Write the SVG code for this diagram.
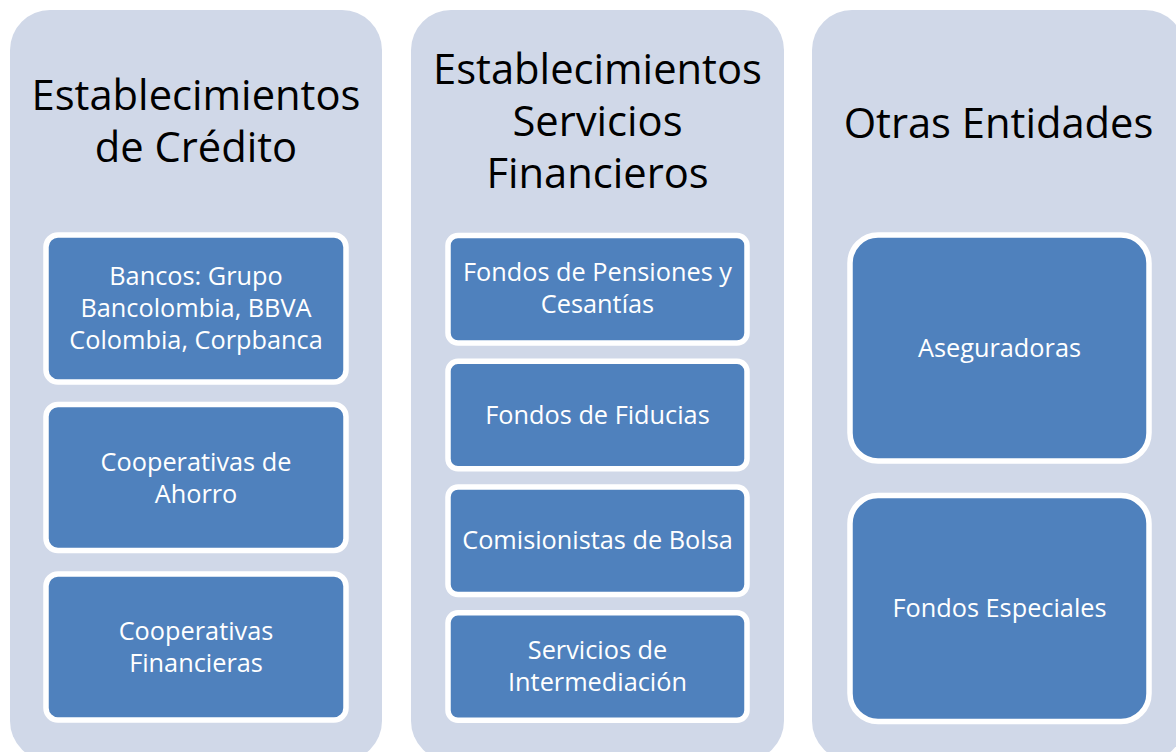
<svg xmlns="http://www.w3.org/2000/svg" width="1176" height="752" viewBox="0 0 1176 752">
<style>
.col{fill:#D0D8E8;}
.box{fill:#4F81BD;stroke:#FFFFFF;stroke-width:5.5;}
.h{font-family:"Open Sans","Liberation Sans",sans-serif;font-size:41.7px;fill:#000000;text-anchor:middle;}
.t{font-family:"Open Sans","Liberation Sans",sans-serif;font-size:25.3px;fill:#FFFFFF;text-anchor:middle;}
</style>
<rect width="1176" height="752" fill="#FFFFFF"/>
<g id="col-credito">
<rect class="col" x="10" y="10" width="372" height="751" rx="40" ry="40"/>
<text class="h" x="196" y="110">Establecimientos</text>
<text class="h" x="196" y="162">de Crédito</text>
</g>
<g id="col-servicios">
<rect class="col" x="411" y="10" width="373" height="751" rx="40" ry="40"/>
<text class="h" x="597.5" y="83.5">Establecimientos</text>
<text class="h" x="597.5" y="135.5">Servicios</text>
<text class="h" x="597.5" y="188">Financieros</text>
</g>
<g id="col-otras">
<rect class="col" x="812" y="10" width="373" height="751" rx="40" ry="40"/>
<text class="h" x="998.5" y="137.5">Otras Entidades</text>
</g>
<g id="bancos">
<rect class="box" x="46" y="235" width="300" height="147" rx="12" ry="12"/>
<text class="t" x="196" y="285">Bancos: Grupo</text>
<text class="t" x="196" y="317">Bancolombia, BBVA</text>
<text class="t" x="196" y="349">Colombia, Corpbanca</text>
</g>
<g id="cooperativas-ahorro">
<rect class="box" x="46" y="404.5" width="300" height="146" rx="12" ry="12"/>
<text class="t" x="196" y="471">Cooperativas de</text>
<text class="t" x="196" y="503">Ahorro</text>
</g>
<g id="cooperativas-financieras">
<rect class="box" x="46" y="574" width="300" height="146" rx="12" ry="12"/>
<text class="t" x="196" y="640">Cooperativas</text>
<text class="t" x="196" y="672">Financieras</text>
</g>
<g id="fondos-pensiones">
<rect class="box" x="448" y="235.5" width="299" height="107.5" rx="10" ry="10"/>
<text class="t" x="597.5" y="281">Fondos de Pensiones y</text>
<text class="t" x="597.5" y="313">Cesantías</text>
</g>
<g id="fondos-fiducias">
<rect class="box" x="448" y="361.3" width="299" height="107.5" rx="10" ry="10"/>
<text class="t" x="597.5" y="424">Fondos de Fiducias</text>
</g>
<g id="comisionistas">
<rect class="box" x="448" y="487" width="299" height="107.5" rx="10" ry="10"/>
<text class="t" x="597.5" y="549">Comisionistas de Bolsa</text>
</g>
<g id="intermediacion">
<rect class="box" x="448" y="612.8" width="299" height="107.5" rx="10" ry="10"/>
<text class="t" x="597.5" y="659">Servicios de</text>
<text class="t" x="597.5" y="691">Intermediación</text>
</g>
<g id="aseguradoras">
<rect class="box" x="850" y="235" width="299" height="226" rx="28" ry="28"/>
<text class="t" x="999.5" y="357">Aseguradoras</text>
</g>
<g id="fondos-especiales">
<rect class="box" x="850" y="495.5" width="299" height="226" rx="28" ry="28"/>
<text class="t" x="999.5" y="617">Fondos Especiales</text>
</g>
<g id="connectors"></g>
</svg>
